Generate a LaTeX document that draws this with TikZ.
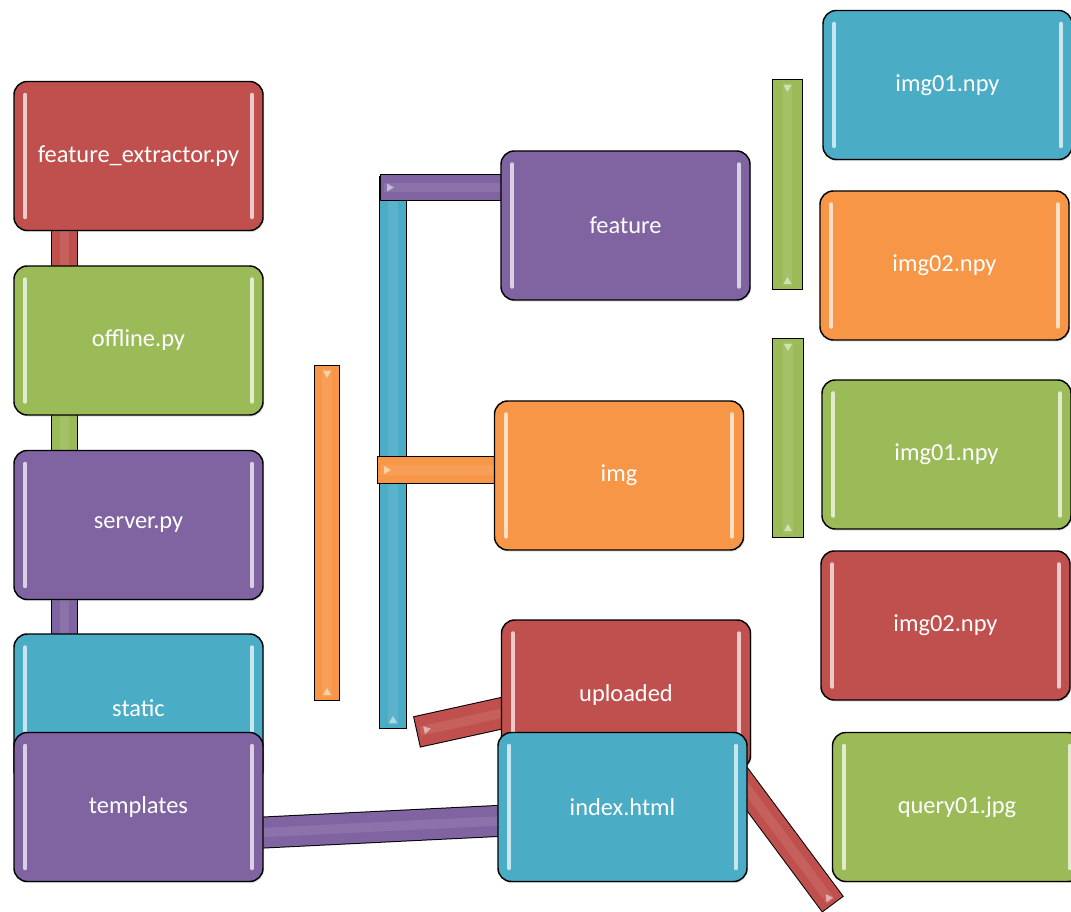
\documentclass[tikz,border=0pt]{standalone}
\usepackage{fontspec}
\setmainfont{Carlito}
\usetikzlibrary{calc}
\usetikzlibrary{backgrounds}
\usetikzlibrary{shadows}
\definecolor{boxred}{HTML}{C0504D}
\definecolor{boxgreen}{HTML}{9BBB59}
\definecolor{boxpurple}{HTML}{8064A2}
\definecolor{boxcyan}{HTML}{4BACC6}
\definecolor{boxorange}{HTML}{F79646}
\tikzset{
  filebox/.style={draw=black, line width=1.1pt, rounded corners=10pt, fill=#1, text=white,
    minimum width=186.75pt, minimum height=111.75pt, inner sep=0pt,
    font=\fontsize{18.3}{22}\selectfont,
    drop shadow={opacity=0.25, shadow xshift=0.8pt, shadow yshift=-1.2pt}},
  gloss/.style={#1!30!white, line width=3pt, line cap=round},
  tipfill/.style={#1!45!white},
}
% box with its two shiny side strokes: name, colour, position, text
\newcommand{\glossbox}[4]{%
  \node[filebox=#2] (#1) at #3 {#4};
  \draw[gloss=#2] ($(#1.north west)+(12,14)$) -- ($(#1.south west)+(12,-14)$);
  \draw[gloss=#2] ($(#1.north east)+(-12,14)$) -- ($(#1.south east)+(-12,-14)$);
}
% flat bar: colour, width (pt), outline width (pt), from, to
\newcommand{\pipe}[5]{%
  \draw[black, line width=#3] #4 -- #5;
  \draw[#1, line width=#2, shorten <=0.75pt, shorten >=0.75pt] #4 -- #5;
  \draw[#1!70!white, opacity=0.3, line width=7pt, shorten <=3pt, shorten >=3pt] #4 -- #5;
}
% small light triangle on a bar end: position, angle, colour
\newcommand{\tipmark}[3]{%
  \fill[tipfill=#3, shift={#1}, rotate=#2] (-3,-4) -- (4,0) -- (-3,4) -- cycle;
}

\begin{document}
\begin{tikzpicture}[x=0.75pt,y=0.75pt,yscale=-1,xscale=1]
\useasboundingbox (0,0) rectangle (1071,912);
%left column
\glossbox{fext}{boxred}{(138.5,156)}{feature\_extractor.py}
\glossbox{offline}{boxgreen}{(138.5,340.5)}{offline.py}
\glossbox{server}{boxpurple}{(138.5,525)}{server.py}
\glossbox{static}{boxcyan}{(138.5,708.5)}{static}
\glossbox{templates}{boxpurple}{(138.5,807)}{templates}
%middle column
\glossbox{feature}{boxpurple}{(625.5,225.5)}{feature}
\glossbox{img}{boxorange}{(619,475.5)}{img}
\glossbox{uploaded}{boxred}{(626,694.5)}{uploaded}
\glossbox{index}{boxcyan}{(622.5,807)}{index.html}
%right column
\glossbox{npyA}{boxcyan}{(947.5,85)}{img01.npy}
\glossbox{npyB}{boxorange}{(944.5,265.5)}{img02.npy}
\glossbox{npyC}{boxgreen}{(946.5,454.5)}{img01.npy}
\glossbox{npyD}{boxred}{(945.5,625.5)}{img02.npy}
\glossbox{query}{boxgreen}{(957,807)}{query01.jpg}
%free ends of the bars
\coordinate (featfree) at (380,187.5);
\coordinate (imgfree) at (377,470);
\coordinate (uplfree) at (416.5,732);
\coordinate (idxfree) at (833,904.5);
\begin{pgfonlayer}{background}
%left column links
\pipe{boxred}{18.75pt}{20.25pt}{($(fext.south)+(-74,-10)$)}{($(offline.north)+(-74,10)$)}
\pipe{boxgreen}{18.75pt}{20.25pt}{($(offline.south)+(-74,-10)$)}{($(server.north)+(-74,10)$)}
\pipe{boxpurple}{18.75pt}{20.25pt}{($(server.south)+(-74,-10)$)}{($(static.north)+(-74,10)$)}
\pipe{boxpurple}{22.5pt}{24pt}{($(templates.east)+(-10,26)$)}{($(index.west)+(10,13.5)$)}
%loose bars
\pipe{boxorange}{18pt}{19.5pt}{(327,365)}{(327,701)}
\pipe{boxcyan}{19.5pt}{21pt}{(393,176)}{(393,729)}
\pipe{boxgreen}{21.75pt}{23.25pt}{(787.5,79)}{(787.5,290)}
\pipe{boxgreen}{22.5pt}{24pt}{(788,338)}{(788,538)}
%middle links
\pipe{boxpurple}{18.75pt}{20.25pt}{(featfree)}{($(feature.west)+(10,-38)$)}
\pipe{boxorange}{19.5pt}{21pt}{(imgfree)}{($(img.west)+(10,-5.5)$)}
\pipe{boxred}{22.5pt}{24pt}{(uplfree)}{($(uploaded.center)+(-96,12.5)$)}
\pipe{boxred}{18.75pt}{20.25pt}{($(index.center)+(103,-47)$)}{(idxfree)}
%bar end marks
\tipmark{(327,374)}{90}{boxorange}
\tipmark{(327,692)}{-90}{boxorange}
\tipmark{(393,720)}{-90}{boxcyan}
\tipmark{(390,187.5)}{0}{boxpurple}
\tipmark{(387,470)}{0}{boxorange}
\tipmark{(787.5,88)}{90}{boxgreen}
\tipmark{(787.5,281)}{-90}{boxgreen}
\tipmark{(788,347)}{90}{boxgreen}
\tipmark{(788,528)}{-90}{boxgreen}
\tipmark{(427,729.5)}{-12.5}{boxred}
\tipmark{(828,897.5)}{233.4}{boxred}
\end{pgfonlayer}
\end{tikzpicture}
\end{document}
